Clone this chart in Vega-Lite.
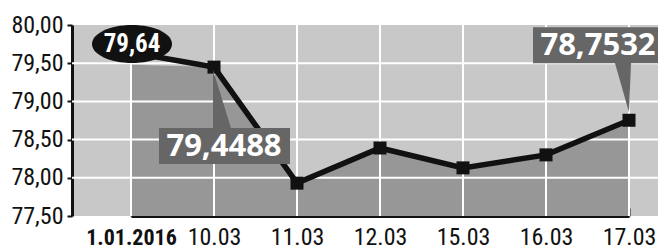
{
  "$schema": "https://vega.github.io/schema/vega-lite/v6.json",
  "width": 586,
  "height": 191,
  "autosize": {"type": "none"},
  "padding": {"left": 72, "top": 25, "right": 0, "bottom": 30},
  "background": "white",
  "config": {
    "view": {"fill": "#c8c8c8", "stroke": null},
    "axisX": {
      "title": null, "grid": false, "zindex": 1,
      "domainColor": "#111111", "domainWidth": 3,
      "ticks": true, "tickColor": "#111111", "tickWidth": 2, "tickSize": -8,
      "labelAngle": 0, "labelColor": "#111111",
      "labelFont": "Roboto Condensed",
      "labelFontSize": {"condition": {"test": "datum.value === '1.01.2016'", "value": 22}, "value": 24},
      "labelFontWeight": {"condition": {"test": "datum.value === '1.01.2016'", "value": "bold"}, "value": "normal"},
      "labelBaseline": "alphabetic", "labelPadding": 36,
      "labelFlush": false, "labelOverlap": false
    },
    "axisY": {
      "title": null, "grid": false, "zindex": 1,
      "domainColor": "#111111", "domainWidth": 3,
      "tickColor": "#111111", "tickWidth": 2, "tickSize": 5,
      "labelFont": "Roboto Condensed", "labelFontSize": 24, "labelColor": "#111111",
      "labelPadding": 4,
      "labelFlush": false, "labelOverlap": false
    }
  },
  "datasets": {
    "series": [
      {"date": "1.01.2016", "rate": 79.64, "fill": 79.48},
      {"date": "10.03", "rate": 79.4488, "fill": 79.4488},
      {"date": "11.03", "rate": 77.93, "fill": 77.93},
      {"date": "12.03", "rate": 78.39, "fill": 78.39},
      {"date": "15.03", "rate": 78.13, "fill": 78.13},
      {"date": "16.03", "rate": 78.3, "fill": 78.3},
      {"date": "17.03", "rate": 78.7532, "fill": 78.7532}
    ],
    "grid": [{"level": 78}, {"level": 78.5}, {"level": 79}, {"level": 79.5}],
    "callouts": [
      {"date": "1.01.2016", "rate": 79.64, "label": "79,64", "kind": "oval"},
      {"date": "10.03", "rate": 79.4488, "label": "79,4488", "kind": "below"},
      {"date": "17.03", "rate": 78.7532, "label": "78,7532", "kind": "above"}
    ]
  },
  "layer": [
    {
      "data": {"name": "series"},
      "mark": {"type": "area", "color": "#979797"},
      "encoding": {
        "x": {
          "field": "date", "type": "ordinal", "sort": null,
          "scale": {"type": "point", "range": [59, 557], "padding": 0}
        },
        "y": {
          "field": "fill", "type": "quantitative",
          "scale": {"domain": [77.5, 80], "zero": false, "nice": false},
          "axis": {
            "tickCount": 5,
            "labelOverlap": false,
            "labelExpr": "replace(format(datum.value, '.2f'), '.', ',')"
          }
        },
        "y2": {"datum": 77.5}
      }
    },
    {
      "data": {"name": "series"},
      "mark": {"type": "rule", "color": "#ffffff", "strokeWidth": 2},
      "encoding": {
        "x": {"field": "date", "type": "ordinal", "sort": null}
      }
    },
    {
      "data": {"name": "grid"},
      "mark": {"type": "rule", "color": "#ffffff", "strokeWidth": 2},
      "encoding": {
        "y": {"field": "level", "type": "quantitative"}
      }
    },
    {
      "data": {"name": "series"},
      "mark": {"type": "line", "color": "#111111", "strokeWidth": 5.5},
      "encoding": {
        "x": {"field": "date", "type": "ordinal", "sort": null},
        "y": {"field": "rate", "type": "quantitative"}
      }
    },
    {
      "data": {"name": "series"},
      "mark": {"type": "square", "size": 169, "color": "#111111", "opacity": 1, "filled": true},
      "encoding": {
        "x": {"field": "date", "type": "ordinal", "sort": null},
        "y": {"field": "rate", "type": "quantitative"}
      }
    },
    {
      "data": {"name": "callouts"},
      "mark": {"type": "point", "filled": true, "size": 4, "opacity": 1, "strokeWidth": 0},
      "encoding": {
        "x": {"field": "date", "type": "ordinal", "sort": null},
        "y": {"field": "rate", "type": "quantitative"},
        "shape": {
          "field": "kind", "type": "nominal", "legend": null,
          "scale": {
            "domain": ["oval", "below", "above"],
            "range": [
              "M-39,-8.5A40,19 0 1,1 41,-8.5A40,19 0 1,1 -39,-8.5Z",
              "M-55,61H-1V3L17,61H76V97H-55Z",
              "M-96,-93H40V-57H2L0,-8L-14,-57H-96Z"
            ]
          }
        },
        "color": {
          "field": "kind", "type": "nominal", "legend": null,
          "scale": {"domain": ["oval", "below", "above"], "range": ["#111111", "#666666", "#666666"]}
        }
      }
    },
    {
      "data": {"name": "callouts"},
      "transform": [{"filter": "datum.kind === 'oval'"}],
      "mark": {"type": "text", "font": "Roboto Condensed", "fontWeight": "bold", "fontSize": 25, "color": "#ffffff", "align": "center", "baseline": "middle", "dx": 1, "dy": -9},
      "encoding": {
        "x": {"field": "date", "type": "ordinal", "sort": null},
        "y": {"field": "rate", "type": "quantitative"},
        "text": {"field": "label"}
      }
    },
    {
      "data": {"name": "callouts"},
      "transform": [{"filter": "datum.kind === 'below'"}],
      "mark": {"type": "text", "font": "Open Sans", "fontWeight": "bold", "fontSize": 31, "color": "#ffffff", "align": "center", "baseline": "middle", "dx": 10, "dy": 80},
      "encoding": {
        "x": {"field": "date", "type": "ordinal", "sort": null},
        "y": {"field": "rate", "type": "quantitative"},
        "text": {"field": "label"}
      }
    },
    {
      "data": {"name": "callouts"},
      "transform": [{"filter": "datum.kind === 'above'"}],
      "mark": {"type": "text", "font": "Open Sans", "fontWeight": "bold", "fontSize": 31, "color": "#ffffff", "align": "center", "baseline": "middle", "dx": -31, "dy": -74},
      "encoding": {
        "x": {"field": "date", "type": "ordinal", "sort": null},
        "y": {"field": "rate", "type": "quantitative"},
        "text": {"field": "label"}
      }
    }
  ]
}
